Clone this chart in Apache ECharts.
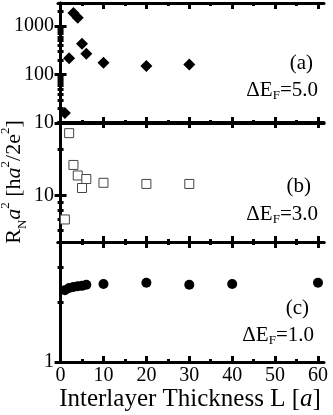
<!DOCTYPE html>
<html>
<head>
<meta charset="utf-8">
<script src="https://cdn.jsdelivr.net/npm/echarts@6.0.0/dist/echarts.min.js"></script>
<style>
  html, body { margin: 0; padding: 0; background: #fff; }
  #chart { width: 333px; height: 415px; }
</style>
</head>
<body>
<div id="chart"></div>
<script>
// data
const xAB = [1, 2, 3, 4, 5, 6, 10, 20, 30];
const rnA = [16, 216, 1860, 1480, 431, 269, 175, 150, 162];
const rnB = [7.0, 25.4, 15.8, 13.5, 11.2, 12.8, 12.1, 11.9, 11.9];
const xC = [1, 2, 3, 4, 5, 6, 10, 20, 30, 40, 60];
const rnC = [2.29, 2.35, 2.38, 2.40, 2.41, 2.44, 2.46, 2.50, 2.44, 2.46, 2.50];

const xMajor = [0, 10, 20, 30, 40, 50, 60];
const xMinor = [5, 15, 25, 35, 45, 55];
const yRange = [[10, 3000], [5, 30], [1, 4]];
const yMajor = [[10, 100, 1000], [10], [1]];
const yMinor = [
  [20, 30, 40, 50, 60, 70, 80, 90, 200, 300, 400, 500, 600, 700, 800, 900, 2000],
  [6, 7, 8, 9, 20],
  [2, 3]
];
const panelTags = ['(a)', '(b)', '(c)'];
const deltaEF = ['5.0', '3.0', '1.0'];

const FONT = 'Liberation Serif';
const tops = [3, 122, 242];
const H = 120;

const chart = echarts.init(document.getElementById('chart'));

const grid = [], xAxis = [], yAxis = [];
tops.forEach(function (t, g) {
  grid.push({ left: 58, width: 266, top: t, height: H });
  ['bottom', 'top'].forEach(function (pos) {
    [true, false].forEach(function (major) {
      xAxis.push({
        gridIndex: g, type: 'value', position: pos, min: -0.6, max: 61.4,
        axisLine: { show: major, lineStyle: { color: '#000', width: 3 } },
        axisTick: { show: true, inside: true, length: major ? 6 : 3,
          customValues: major ? xMajor : xMinor, lineStyle: { color: '#000', width: 3 } },
        axisLabel: { show: major && pos === 'bottom' && g === 2, customValues: xMajor,
          margin: 4, color: '#000', fontSize: 20, fontFamily: FONT },
        splitLine: { show: false }
      });
    });
  });
  ['left', 'right'].forEach(function (pos) {
    [true, false].forEach(function (major) {
      yAxis.push({
        gridIndex: g, type: 'log', logBase: 10, position: pos,
        min: yRange[g][0], max: yRange[g][1],
        axisLine: { show: major, lineStyle: { color: '#000', width: 3 } },
        axisTick: { show: true, inside: true, length: major ? 6 : 3,
          customValues: major ? yMajor[g] : yMinor[g], lineStyle: { color: '#000', width: 3 } },
        axisLabel: { show: major && pos === 'left', customValues: yMajor[g],
          formatter: function (v) { return String(Math.round(v)); },
          margin: 4, color: '#000', fontSize: 20, fontFamily: FONT },
        splitLine: { show: false }
      });
    });
  });
});

function pairs(xs, ys) {
  return xs.map(function (x, i) { return [x, ys[i]]; });
}

const series = [
  { type: 'scatter', xAxisIndex: 0, yAxisIndex: 0, symbol: 'diamond', symbolSize: 12,
    itemStyle: { color: '#000', opacity: 1 }, data: pairs(xAB, rnA) },
  { type: 'scatter', xAxisIndex: 4, yAxisIndex: 4, symbol: 'rect', symbolSize: 9,
    itemStyle: { color: '#fff', borderColor: '#444', borderWidth: 1, opacity: 1 }, data: pairs(xAB, rnB) },
  { type: 'scatter', xAxisIndex: 8, yAxisIndex: 8, symbol: 'circle', symbolSize: 10,
    itemStyle: { color: '#000', opacity: 1 }, data: pairs(xC, rnC) }
];

const tagY = [[63, 90], [186, 214], [308, 335]];
const tagX = [[313, 318], [311, 318], [309, 314]];

const graphic = [];
tagY.forEach(function (ys, g) {
  graphic.push({ type: 'text', x: tagX[g][0], y: ys[0], style: {
    text: panelTags[g], fill: '#000', fontSize: 21, fontFamily: FONT,
    align: 'right', verticalAlign: 'middle' } });
  graphic.push({ type: 'text', x: tagX[g][1], y: ys[1], style: {
    text: 'ΔE{s|F}=' + deltaEF[g], fill: '#000', fontSize: 21, fontFamily: FONT,
    align: 'right', verticalAlign: 'middle', lineHeight: 24,
    rich: {
      s: { fontSize: 13, fontFamily: FONT, lineHeight: 13, verticalAlign: 'bottom', fill: '#000' }
    } } });
});

// y axis title
graphic.push({ type: 'text', x: 14, y: 182, rotation: Math.PI / 2, style: {
  text: 'R{s|N}{i|a}{p|2} [h{i|a}{p|2}/2e{p|2}]',
  fill: '#000', fontSize: 22, fontFamily: FONT, align: 'center', verticalAlign: 'middle',
  lineHeight: 30,
  rich: {
    s: { fontSize: 13, fontFamily: FONT, lineHeight: 13, verticalAlign: 'bottom', fill: '#000' },
    p: { fontSize: 13, fontFamily: FONT, lineHeight: 13, verticalAlign: 'top', fill: '#000' },
    i: { fontSize: 22, fontFamily: FONT, fontStyle: 'italic', lineHeight: 30, fill: '#000' }
  } } });

// x axis title
graphic.push({ type: 'text', x: 190, y: 399, style: {
  text: 'Interlayer Thickness L [{i|a}]', fill: '#000', fontSize: 25, fontFamily: FONT,
  align: 'center', verticalAlign: 'middle',
  rich: { i: { fontSize: 25, fontFamily: FONT, fontStyle: 'italic', fill: '#000' } } } });

chart.setOption({
  animation: false,
  grid: grid,
  xAxis: xAxis,
  yAxis: yAxis,
  series: series,
  graphic: graphic
});
</script>
</body>
</html>
